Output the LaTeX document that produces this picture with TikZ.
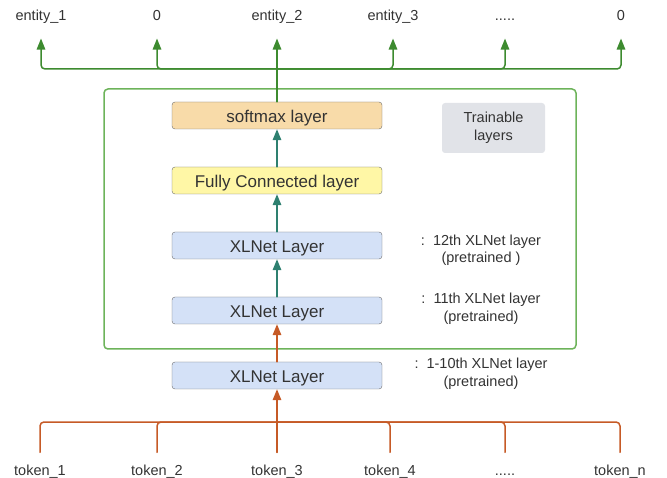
\documentclass[tikz,border=0pt]{standalone}
\usepackage{fontspec}
\setmainfont{Liberation Sans}
\usepackage{tikz}
\usetikzlibrary{arrows.meta}
\usetikzlibrary{positioning}
\tikzset{>={Triangle[length=11pt,width=8.5pt]}}
\definecolor{penGreen}{HTML}{3D8B2F}
\definecolor{boxGreen}{HTML}{6DB35A}
\definecolor{penTeal}{HTML}{2E8070}
\definecolor{penOrange}{HTML}{C65A26}
\definecolor{softFill}{HTML}{F8DBA9}
\definecolor{fcFill}{HTML}{FFF7A6}
\definecolor{xlFill}{HTML}{D4E1F7}
\definecolor{grayFill}{HTML}{E1E3E8}
\definecolor{inkColor}{HTML}{333333}

\begin{document}
\begin{tikzpicture}[x=1pt,y=-1pt,line cap=round,
  layer/.style={draw=gray!85!black,rounded corners=3pt,minimum width=210pt,
    minimum height=27pt,inner sep=0pt,text=inkColor,text height=15pt,
    text depth=0pt,font=\fontsize{17}{20}\selectfont},
  tag/.style={text=inkColor,text height=11pt,text depth=3pt,
    font=\fontsize{14.5}{17.5}\selectfont},
  note/.style={text=inkColor,align=center,font=\fontsize{14.5}{17.5}\selectfont},
  wire/.style={line width=1.5pt}]

  \useasboundingbox (0,0) rectangle (667,478);

  % trainable part
  \draw [boxGreen,line width=1.5pt,rounded corners=4pt] (104,89) rectangle (576,349);
  \draw (493.5,128) node[note,fill=grayFill,rounded corners=3pt,
    minimum width=103pt,minimum height=50pt] (train) {Trainable\\layers};

  \draw (277,115.5) node[layer,fill=softFill] (soft) {softmax layer};
  \draw (277,180.5) node[layer,fill=fcFill] (fc) {Fully Connected layer};
  \draw (277,245.5) node[layer,fill=xlFill] (x12) {XLNet Layer};
  \draw (277,310.5) node[layer,fill=xlFill] (x11) {XLNet Layer};
  \draw (277,375.5) node[layer,fill=xlFill] (x10) {XLNet Layer};

  \draw (481,250.5) node[note] (n12) {:\ \ 12th XLNet layer\\(pretrained )};
  \draw (481,309) node[note] (n11) {:\ \ 11th XLNet layer\\(pretrained)};
  \draw (481,374) node[note] (n10) {:\ \ 1-10th XLNet layer\\(pretrained)};

  \draw [penTeal,wire,->] (fc) -- (soft);
  \draw [penTeal,wire,->] (x12) -- (fc);
  \draw [penTeal,wire,->] (x11) -- (x12);
  \draw [penOrange,wire,->] (x10) -- (x11);

  % outputs
  \draw (41,17) node[tag] (e1) {entity\_1};
  \draw (157,17) node[tag] (e2) {0};
  \draw (277,17) node[tag] (e3) {entity\_2};
  \draw (393,17) node[tag] (e4) {entity\_3};
  \draw (505,17) node[tag] (e5) {.....};
  \draw (621,17) node[tag] (e6) {0};

  \coordinate (top) at (277,69);
  \draw [penGreen,wire] (soft) -- (top);
  \foreach \n in {1,2,4,5,6}
    \draw [penGreen,wire,rounded corners=4pt,->,shorten >=11pt] (top) -| (e\n);
  \draw [penGreen,wire,->,shorten >=11pt] (top) -- (e3);

  % inputs
  \draw (40,471) node[tag] (t1) {token\_1};
  \draw (157,471) node[tag] (t2) {token\_2};
  \draw (277,471) node[tag] (t3) {token\_3};
  \draw (390,471) node[tag] (t4) {token\_4};
  \draw (505,471) node[tag] (t5) {.....};
  \draw (620,471) node[tag] (t6) {token\_n};

  \coordinate (bot) at (277,422);
  \foreach \n in {1,2,4,5,6}
    \draw [penOrange,wire,rounded corners=4pt,shorten <=8pt] (t\n) |- (bot);
  \draw [penOrange,wire,->,shorten <=8pt] (t3) -- (x10);

\end{tikzpicture}
\end{document}
